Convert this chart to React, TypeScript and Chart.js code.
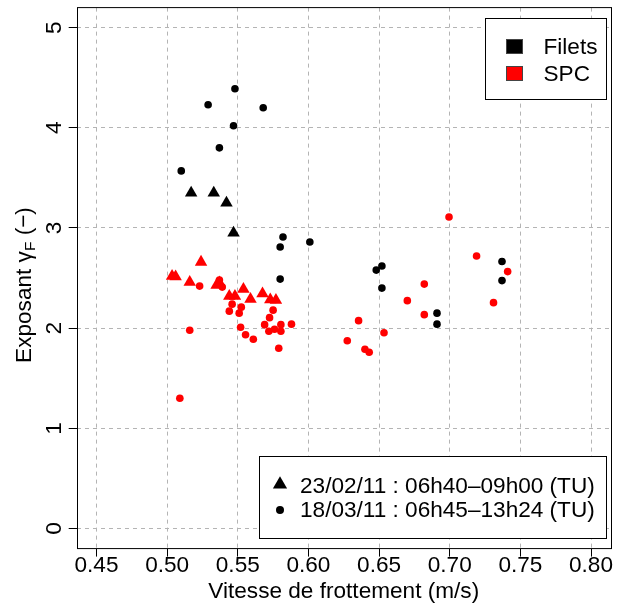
import React, { useEffect, useRef } from "react";
import { Chart, registerables } from "chart.js";

Chart.register(...registerables);

const FONT = '"Liberation Sans", Arial, Helvetica, sans-serif';
const FS = 22.6;

const xTicks = [0.45, 0.5, 0.55, 0.6, 0.65, 0.7, 0.75, 0.8];
const yTicks = [0, 1, 2, 3, 4, 5];

const xTitle = "Vitesse de frottement (m/s)";
const legendSeries = ["Filets", "SPC"];
const legendDates = ["23/02/11 : 06h40\u201309h00 (TU)", "18/03/11 : 06h45\u201313h24 (TU)"];

// Filets, 23/02/11 (black triangles)
const filets23X = [0.517, 0.533, 0.542, 0.547];
const filets23Y = [3.35, 3.35, 3.25, 2.95];

// Filets, 18/03/11 (black circles)
const filets18X = [0.548, 0.529, 0.568, 0.547, 0.537, 0.51, 0.582, 0.58, 0.58, 0.601, 0.652, 0.648, 0.652, 0.691, 0.691, 0.737, 0.737];
const filets18Y = [4.39, 4.23, 4.2, 4.02, 3.8, 3.57, 2.91, 2.81, 2.49, 2.86, 2.62, 2.58, 2.4, 2.15, 2.04, 2.665, 2.475];

// SPC, 23/02/11 (red triangles)
const spc23X = [0.5035, 0.506, 0.524, 0.516, 0.535, 0.537, 0.544, 0.548, 0.554, 0.559, 0.5675, 0.573, 0.577];
const spc23Y = [2.52, 2.515, 2.66, 2.46, 2.43, 2.455, 2.32, 2.32, 2.39, 2.29, 2.345, 2.285, 2.28];

// SPC, 18/03/11 (red circles)
const spc18X = [0.523, 0.537, 0.539, 0.546, 0.544, 0.5525, 0.551, 0.516, 0.552, 0.5555, 0.561, 0.509, 0.575, 0.5725, 0.569, 0.572, 0.576, 0.5805, 0.5805, 0.579, 0.588, 0.6995, 0.682, 0.67, 0.682, 0.6355, 0.6535, 0.6275, 0.64, 0.643, 0.719, 0.741, 0.731];
const spc18Y = [2.42, 2.48, 2.41, 2.24, 2.17, 2.21, 2.15, 1.98, 2.01, 1.935, 1.89, 1.3, 2.18, 2.105, 2.035, 1.97, 1.99, 2.035, 1.97, 1.8, 2.04, 3.11, 2.44, 2.275, 2.135, 2.075, 1.955, 1.875, 1.79, 1.76, 2.72, 2.565, 2.255];

const toPts = (xs: number[], ys: number[]) => xs.map((x, i) => ({ x, y: ys[i] }));

const decorPlugin = {
  id: "decor",
  afterDraw(chart: any) {
    const { ctx, chartArea: a, scales } = chart;
    const ys = scales.y;
    ctx.save();
    // plot box
    ctx.strokeStyle = "#000";
    ctx.lineWidth = 1;
    ctx.strokeRect(Math.round(a.left) + 0.5, a.top, Math.round(a.right) - Math.round(a.left), a.bottom - a.top);

    // y tick labels (rotated)
    ctx.fillStyle = "#000";
    ctx.font = `${FS}px ${FONT}`;
    ctx.textAlign = "center";
    ctx.textBaseline = "alphabetic";
    for (const v of yTicks) {
      const py = ys.getPixelForValue(v);
      ctx.save();
      ctx.translate(61, py);
      ctx.rotate(-Math.PI / 2);
      ctx.fillText(String(v), 0, 0);
      ctx.restore();
    }

    // y title with subscript
    ctx.save();
    ctx.translate(31, 285);
    ctx.rotate(-Math.PI / 2);
    ctx.textAlign = "left";
    const parts: [string, string, number][] = [
      ["Exposant \u03B3", `${FS}px ${FONT}`, 0],
      ["F", `15.5px ${FONT}`, 4],
      [" (\u2212)", `${FS}px ${FONT}`, 0],
    ];
    let total = 0;
    for (const [t, f] of parts) { ctx.font = f; total += ctx.measureText(t).width; }
    let x = -total / 2;
    for (const [t, f, dy] of parts) { ctx.font = f; ctx.fillText(t, x, dy); x += ctx.measureText(t).width; }
    ctx.restore();

    // legend 1 (series colours)
    ctx.fillStyle = "#fff";
    ctx.fillRect(485.5, 18.5, 121, 81);
    ctx.strokeStyle = "#000";
    ctx.strokeRect(485.5, 18.5, 121, 81);
    const sqColors = ["#000", "#ff0000"];
    const sqY = [39.5, 66.5];
    const txY = [54, 81];
    ctx.font = `${FS}px ${FONT}`;
    ctx.textAlign = "left";
    legendSeries.forEach((lab, i) => {
      ctx.fillStyle = sqColors[i];
      ctx.fillRect(506.5, sqY[i], 16, 14);
      ctx.strokeStyle = "#444";
      ctx.strokeRect(506.5, sqY[i], 16, 14);
      ctx.fillStyle = "#000";
      ctx.fillText(lab, 543.5, txY[i]);
    });

    // legend 2 (dates / symbols)
    ctx.fillStyle = "#fff";
    ctx.fillRect(259.5, 456.5, 347, 82);
    ctx.strokeStyle = "#000";
    ctx.strokeRect(259.5, 456.5, 347, 82);
    ctx.fillStyle = "#000";
    const r = 8.2, cx = 280, cy = 484.5;
    ctx.beginPath();
    for (let k = 0; k < 3; k++) {
      const ang = (k * 2 * Math.PI) / 3;
      const px = cx + Math.sin(ang) * r, py = cy - Math.cos(ang) * r;
      if (k === 0) ctx.moveTo(px, py); else ctx.lineTo(px, py);
    }
    ctx.closePath();
    ctx.fill();
    ctx.beginPath();
    ctx.arc(280, 510, 4, 0, Math.PI * 2);
    ctx.fill();
    ctx.fillText(legendDates[0], 300, 493);
    ctx.fillText(legendDates[1], 300, 517);
    ctx.restore();
  },
};

export default function App() {
  const ref = useRef<HTMLCanvasElement>(null);
  useEffect(() => {
    if (!ref.current) return;
    const gridCommon = {
      color: "#b4b4b4",
      lineWidth: 1,
      tickColor: "#000",
      tickLength: 8,
      tickWidth: 1,
      tickBorderDash: [],
      drawTicks: true,
    };
    const chart = new Chart(ref.current, {
      type: "scatter",
      data: {
        datasets: [
          { label: "Filets 23/02", data: toPts(filets23X, filets23Y), pointStyle: "triangle", pointRadius: 7.2, pointBorderWidth: 0, backgroundColor: "#000", borderColor: "#000", borderWidth: 0 },
          { label: "Filets 18/03", data: toPts(filets18X, filets18Y), pointStyle: "circle", pointRadius: 3.8, pointBorderWidth: 0, backgroundColor: "#000", borderColor: "#000", borderWidth: 0 },
          { label: "SPC 23/02", data: toPts(spc23X, spc23Y), pointStyle: "triangle", pointRadius: 7.2, pointBorderWidth: 0, backgroundColor: "#ff0000", borderColor: "#ff0000", borderWidth: 0 },
          { label: "SPC 18/03", data: toPts(spc18X, spc18Y), pointStyle: "circle", pointRadius: 3.8, pointBorderWidth: 0, backgroundColor: "#ff0000", borderColor: "#ff0000", borderWidth: 0 },
        ],
      },
      options: {
        animation: false,
        responsive: false,
        devicePixelRatio: 1,
        events: [],
        layout: { padding: { left: 68.7, right: 1.3, top: 7.6, bottom: 0 } },
        plugins: { legend: { display: false }, tooltip: { enabled: false } },
        scales: {
          x: {
            type: "linear",
            min: 0.436,
            max: 0.814,
            afterBuildTicks: (s: any) => { s.ticks = xTicks.map((v) => ({ value: v })); },
            ticks: {
              color: "#000",
              font: { family: FONT, size: FS, lineHeight: 1 },
              padding: -2,
              maxRotation: 0,
              minRotation: 0,
              autoSkip: false,
              callback: (v: any) => Number(v).toFixed(2),
            },
            grid: gridCommon,
            border: { display: false, dash: [4, 4] },
            title: {
              display: true,
              text: xTitle,
              color: "#000",
              font: { family: FONT, size: FS, lineHeight: 1.2 },
              padding: { top: 2.7, bottom: 0 },
            },
          },
          y: {
            type: "linear",
            min: -0.2,
            max: 5.2,
            afterBuildTicks: (s: any) => { s.ticks = yTicks.map((v) => ({ value: v })); },
            ticks: { display: false },
            grid: gridCommon,
            border: { display: false, dash: [4, 4] },
          },
        },
      },
      plugins: [decorPlugin],
    } as any);
    return () => chart.destroy();
  }, []);
  return (
    <div style={{ position: "absolute", left: 0, top: 0, width: 618, height: 605, background: "#fff" }}>
      <canvas ref={ref} width={618} height={605} style={{ display: "block" }} />
    </div>
  );
}
